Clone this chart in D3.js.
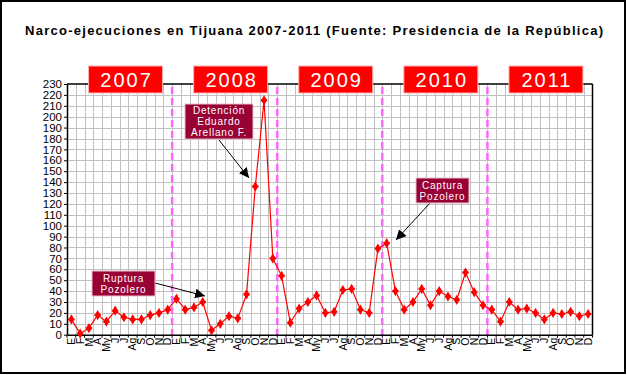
<!DOCTYPE html>
<html>
<head>
<meta charset="utf-8">
<script src="https://cdn.jsdelivr.net/npm/d3@7/dist/d3.min.js"></script>
<style>
  html, body { margin: 0; padding: 0; background: #fff; }
  svg { display: block; font-family: Arial, "Liberation Sans", sans-serif; }
</style>
</head>
<body>
<svg id="chart" width="627" height="375"></svg>
<script>
// ---- DATA ----
const years = ["2007", "2008", "2009", "2010", "2011"];
const monthLabels = ["E", "F", "M", "A", "My", "J", "J", "Ag", "S", "O", "N", "D"];
const values2007 = [14, 1, 6, 18, 12, 22, 16, 14, 14, 18, 20, 23];
const values2008 = [33, 23, 25, 30, 4, 10, 17, 15, 37, 136, 215, 70];
const values2009 = [54, 11, 24, 30, 36, 20, 21, 41, 42, 23, 20, 79];
const values2010 = [84, 40, 23, 30, 42, 27, 40, 35, 32, 57, 39, 27];
const values2011 = [23, 12, 30, 23, 24, 20, 14, 20, 19, 21, 17, 19];
const yTicks = d3.range(0, 231, 10);
const title = "Narco-ejecuciones en Tijuana 2007-2011 (Fuente: Presidencia de la República)";
const annotations = [
  { lines: ["Ruptura", "Pozolero"] },
  { lines: ["Detención", "Eduardo", "Arellano F."] },
  { lines: ["Captura", "Pozolero"] }
];

const allValues = [values2007, values2008, values2009, values2010, values2011];
const series = [];
allValues.forEach((arr, yi) => arr.forEach((v, mi) => series.push({ i: yi * 12 + mi, label: monthLabels[mi], value: v })));

// ---- LAYOUT ----
const svg = d3.select("#chart");
const L = 67, R = 592.5, T = 84, B = 334.7;

svg.append("rect").attr("x", 1).attr("y", 1).attr("width", 624).attr("height", 372)
  .attr("fill", "#fff").attr("stroke", "#000").attr("stroke-width", 2);

const x = d3.scaleBand().domain(series.map(d => d.i)).range([L, R]).padding(0);
const y = d3.scaleLinear().domain([0, 230]).range([B, T]);
const bw = x.bandwidth();

// grid
const grid = svg.append("g").attr("stroke", "#c0c0c0").attr("stroke-width", 1);
grid.selectAll("line.h").data(yTicks.filter(t => t > 0 && t < 230)).join("line")
  .attr("x1", L).attr("x2", R).attr("y1", d => Math.round(y(d)) + 0.5).attr("y2", d => Math.round(y(d)) + 0.5);
grid.selectAll("line.v").data(series.slice(1)).join("line")
  .attr("x1", d => Math.round(x(d.i)) + 0.5).attr("x2", d => Math.round(x(d.i)) + 0.5)
  .attr("y1", T).attr("y2", B);

// plot border top/right
svg.append("line").attr("x1", L).attr("x2", R).attr("y1", T).attr("y2", T).attr("stroke", "#000").attr("stroke-width", 1.5);
svg.append("line").attr("x1", R).attr("x2", R).attr("y1", T).attr("y2", B).attr("stroke", "#000").attr("stroke-width", 1.5);

// year dividers
svg.append("g").selectAll("line").data(years.slice(1)).join("line")
  .attr("x1", (d, k) => x((k + 1) * 12)).attr("x2", (d, k) => x((k + 1) * 12))
  .attr("y1", T + 3).attr("y2", B)
  .attr("stroke", "#ff66ff").attr("stroke-width", 2.5).attr("stroke-dasharray", "7,4");

// y axis
const yAxis = svg.append("g").attr("transform", `translate(${L},0)`)
  .call(d3.axisLeft(y).tickValues(yTicks).tickSize(3).tickSizeOuter(0));
yAxis.select(".domain").attr("stroke", "#000").attr("stroke-width", 1.5);
yAxis.selectAll(".tick line").attr("stroke", "#000");
yAxis.selectAll("text").attr("font-size", 11.5).attr("font-family", "Arial, Liberation Sans").attr("fill", "#000").attr("x", -5);

// x axis
const xAxis = svg.append("g").attr("transform", `translate(0,${B})`)
  .call(d3.axisBottom(x).tickSize(0).tickSizeOuter(0).tickFormat(i => series[i].label));
xAxis.select(".domain").attr("stroke", "#000").attr("stroke-width", 1.5);
xAxis.selectAll("text").attr("font-size", 10.5).attr("font-family", "Arial, Liberation Sans").attr("fill", "#000")
  .attr("transform", "rotate(-90)").attr("text-anchor", "end").attr("x", -3).attr("y", 0).attr("dy", "0.35em");
svg.append("g").selectAll("line").data(series.concat([{ i: 60 }])).join("line")
  .attr("x1", d => d.i < 60 ? x(d.i) : R).attr("x2", d => d.i < 60 ? x(d.i) : R)
  .attr("y1", B).attr("y2", B + 3).attr("stroke", "#000");

// line + markers
const line = d3.line().x(d => x(d.i) + bw / 2).y(d => y(d.value));
svg.append("path").datum(series).attr("d", line).attr("fill", "none").attr("stroke", "#ff0000").attr("stroke-width", 1.2);
svg.append("g").selectAll("path").data(series).join("path")
  .attr("transform", d => `translate(${x(d.i) + bw / 2},${y(d.value)})`)
  .attr("d", d3.symbol().type(d3.symbolDiamond).size(30))
  .attr("fill", "#ff0000");
svg.append("g").selectAll("path").data(series).join("path")
  .attr("transform", d => `translate(${x(d.i) + bw / 2},${y(d.value)})`)
  .attr("d", d3.symbol().type(d3.symbolCross).size(22))
  .attr("fill", "#ff0000");

// year boxes
const yb = svg.append("g").selectAll("g").data(years).join("g")
  .attr("transform", (d, k) => `translate(${(x(k * 12) + x(k * 12 + 11) + bw) / 2 + 6},${79.5})`);
yb.append("rect").attr("x", -37).attr("y", -13.5).attr("width", 74).attr("height", 27)
  .attr("fill", "#ff0000").attr("stroke", "#ffb3b3").attr("stroke-width", 1);
yb.append("text").text(d => d).attr("text-anchor", "middle").attr("dy", "0.36em")
  .attr("fill", "#fff").attr("font-size", 20).attr("letter-spacing", 2).attr("dx", 1);

// title
svg.append("text").attr("x", 25).attr("y", 35)
  .attr("font-weight", "bold").attr("font-size", 13).attr("fill", "#000")
  .attr("textLength", 578).attr("lengthAdjust", "spacing").text(title);

// annotations
const defs = svg.append("defs");
defs.append("marker").attr("id", "arr").attr("viewBox", "0 0 10 10").attr("refX", 10).attr("refY", 5)
  .attr("markerWidth", 10).attr("markerHeight", 10).attr("markerUnits", "userSpaceOnUse").attr("orient", "auto")
  .append("path").attr("d", "M0,0 L10,5 L0,10 Z").attr("fill", "#000");

const annLayout = [
  { box: [92, 271, 63, 25], from: [155, 283], to: [205, 296] },
  { box: [185, 104, 68, 35], from: [219, 140], to: [249, 178] },
  { box: [416, 178, 53, 25], from: [430, 203], to: [396, 240] }
];
annotations.forEach((a, k) => {
  const l = annLayout[k];
  svg.append("line").attr("x1", l.from[0]).attr("y1", l.from[1]).attr("x2", l.to[0]).attr("y2", l.to[1])
    .attr("stroke", "#000").attr("stroke-width", 1).attr("marker-end", "url(#arr)");
  svg.append("rect").attr("x", l.box[0]).attr("y", l.box[1]).attr("width", l.box[2]).attr("height", l.box[3])
    .attr("fill", "#990033").attr("stroke", "#e8c0cc").attr("stroke-width", 1);
  const cx = l.box[0] + l.box[2] / 2;
  const lh = 11;
  const y0 = l.box[1] + l.box[3] / 2 - (a.lines.length - 1) * lh / 2;
  a.lines.forEach((t, j) => {
    svg.append("text").attr("x", cx).attr("y", y0 + j * lh).attr("dy", "0.35em")
      .attr("text-anchor", "middle").attr("fill", "#fff").attr("font-size", 10)
      .attr("letter-spacing", 0.8).text(t);
  });
});
</script>
</body>
</html>
